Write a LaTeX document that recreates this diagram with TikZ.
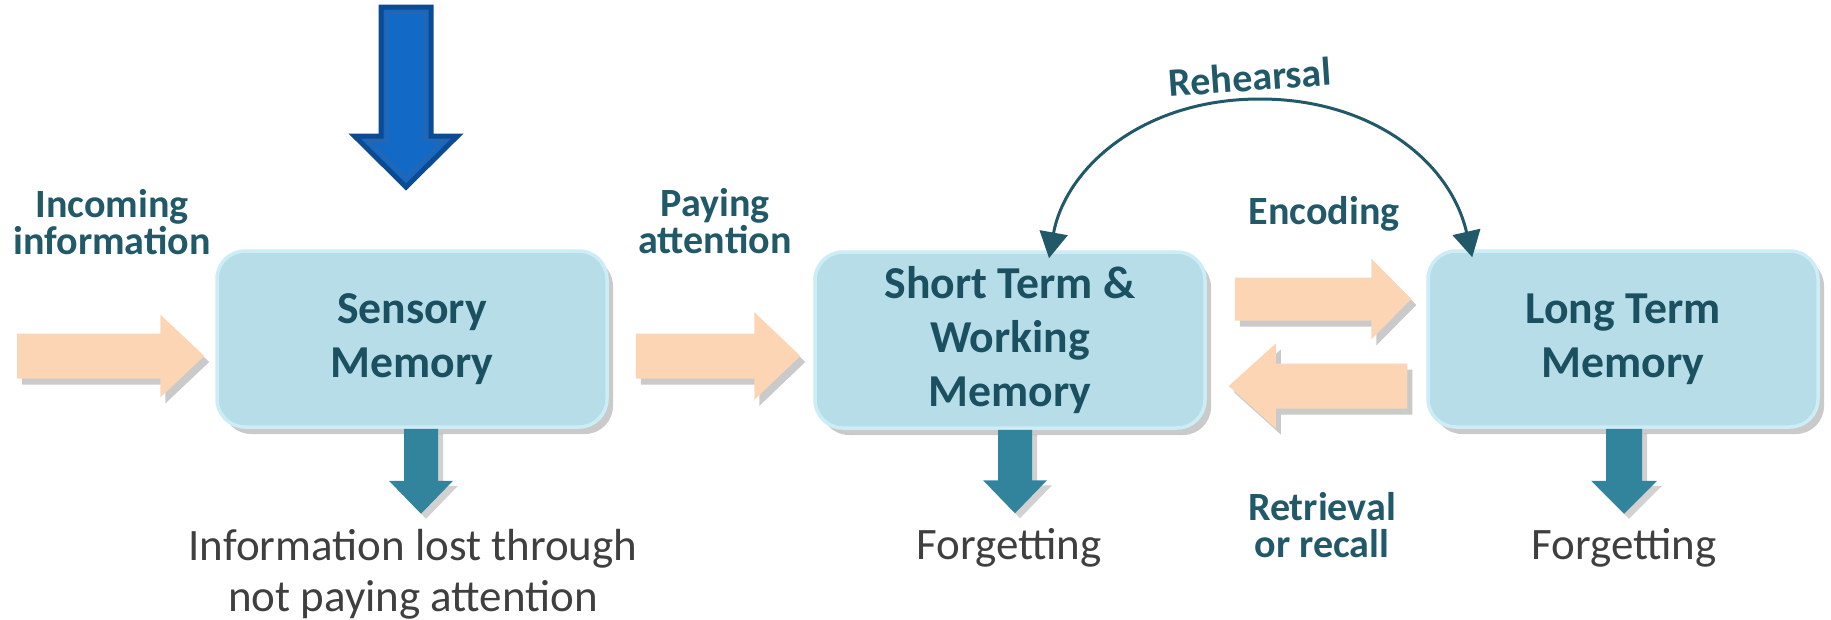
\documentclass[tikz,border=0pt]{standalone}
\usepackage{fontspec}
\setmainfont{Carlito}
\usetikzlibrary{calc,shadows,arrows.meta}
\definecolor{boxfill}{HTML}{B7DEE8}
\definecolor{boxline}{HTML}{CCECF6}
\definecolor{orangefill}{HTML}{FCD5B5}
\definecolor{tealfill}{HTML}{31849B}
\definecolor{labteal}{HTML}{215968}
\definecolor{boxtext}{HTML}{1B5061}
\definecolor{greytext}{HTML}{3F3F3F}
\definecolor{bluefill}{HTML}{1369C6}
\definecolor{blueline}{HTML}{0C4A92}
% block arrow: #1 style, #2 tail coord, #3 tip coord, #4 shaft half width, #5 head half width, #6 head length
\newcommand\blockarr[6]{%
  \coordinate (hb) at ($(#3)!#6!(#2)$);
  \path[#1] ($(#2)!#4!90:(#3)$) -- ($(hb)!#4!-90:(#2)$) -- ($(hb)!#5!-90:(#2)$)
    -- (#3) -- ($(hb)!#5!90:(#2)$) -- ($(hb)!#4!90:(#2)$) -- ($(#2)!#4!-90:(#3)$) -- cycle;}
\begin{document}
\begin{tikzpicture}[x=0.1mm,y=-0.1mm,
  memory/.style={rectangle, rounded corners=2.8mm, fill=boxfill, draw=boxline,
    line width=0.35mm, minimum width=39mm, minimum height=17.6mm, inner sep=0pt,
    align=center, text=boxtext, font=\fontsize{13}{15.4}\selectfont\bfseries,
    drop shadow={shadow xshift=0.6mm, shadow yshift=-0.7mm, opacity=0.35, fill=black!60}},
  lbl/.style={text=labteal, font=\fontsize{11.4}{10.3}\selectfont\bfseries, align=center, inner sep=0pt},
  outcome/.style={text=greytext, font=\fontsize{12.8}{14.5}\selectfont, align=center, inner sep=0pt},
  orangearr/.style={fill=orangefill, drop shadow={shadow xshift=0.5mm, shadow yshift=-0.6mm, opacity=0.35, fill=black!60}},
  tealarr/.style={fill=tealfill, drop shadow={shadow xshift=0.5mm, shadow yshift=-0.5mm, opacity=0.3, fill=black!60}},
  bluearr/.style={fill=bluefill, draw=blueline, line width=0.5mm, line join=miter},
  blueinner/.style={draw=blueline!85, line width=0.15mm, line join=miter},
  rehearse/.style={draw=labteal, line width=0.3mm,
    {Triangle[length=2.6mm,width=2.8mm]}-{Triangle[length=2.6mm,width=2.8mm]}}
]
\useasboundingbox (0,0) rectangle (1831,620);

% memory boxes
\node[memory] (sens) at (412,339) {Sensory\\Memory};
\node[memory] (stwm) at (1010,340) {Short Term \&\\Working\\Memory};
\node[memory] (ltm) at (1623,339) {Long Term\\Memory};

% blue input arrow
\coordinate (bt) at (406,7);
\coordinate (bh) at (406,187);
\blockarr{bluearr}{bt}{bh}{2.5mm}{5.15mm}{5.1mm}
\coordinate (bt2) at (406,13);
\coordinate (bh2) at (406,178);
\blockarr{blueinner}{bt2}{bh2}{1.9mm}{3.9mm}{3.8mm}

% orange arrows
\coordinate (in0) at (17,356);
\coordinate (in1) at ([xshift=-1.1mm,yshift=-1.7mm]sens.west);
\blockarr{orangearr}{in0}{in1}{2.25mm}{4.15mm}{4.4mm}

\coordinate (pa0) at ([xshift=2.7mm,yshift=-1.7mm]sens.east);
\coordinate (pa1) at ([xshift=-1.3mm,yshift=-1.6mm]stwm.west);
\blockarr{orangearr}{pa0}{pa1}{2.25mm}{4.4mm}{4.6mm}

\coordinate (en0) at ([xshift=2.8mm,yshift=4.1mm]stwm.east);
\coordinate (en1) at ([xshift=-1.5mm,yshift=4.0mm]ltm.west);
\blockarr{orangearr}{en0}{en1}{2.15mm}{4.05mm}{4.0mm}

\coordinate (re0) at ([xshift=-1.9mm,yshift=-4.7mm]ltm.west);
\coordinate (re1) at ([xshift=2.2mm,yshift=-4.6mm]stwm.east);
\blockarr{orangearr}{re0}{re1}{2.25mm}{4.25mm}{4.7mm}

% teal forgetting arrows
\coordinate (sd0) at ([xshift=0.9mm]sens.south);
\coordinate (sd1) at ([xshift=0.9mm,yshift=-8.5mm]sens.south);
\blockarr{tealarr}{sd0}{sd1}{1.7mm}{3.2mm}{3.3mm}
\coordinate (wd0) at ([xshift=0.5mm]stwm.south);
\coordinate (wd1) at ([xshift=0.5mm,yshift=-8.35mm]stwm.south);
\blockarr{tealarr}{wd0}{wd1}{1.7mm}{3.2mm}{3.3mm}
\coordinate (ld0) at ([xshift=0.1mm]ltm.south);
\coordinate (ld1) at ([xshift=0.1mm,yshift=-8.5mm]ltm.south);
\blockarr{tealarr}{ld0}{ld1}{1.8mm}{3.3mm}{3.3mm}

% rehearsal loop
\coordinate (r1) at ([xshift=3.9mm,yshift=-0.8mm]stwm.north);
\coordinate (r2) at ([xshift=4.6mm,yshift=-0.8mm]ltm.north west);
\draw[rehearse] (r1) .. controls (1065,170) and (1140,99) .. (1260,99)
  .. controls (1370,99) and (1450,160) .. (r2);
\node[lbl, rotate=4] (reh) at (1250,77) {Rehearsal};

% labels
\node[lbl] (incoming) at (112,222) {Incoming\\information};
\node[lbl] (paying) at (715,221) {Paying\\attention};
\node[lbl] (encoding) at (1324,214) {Encoding};
\node[lbl] (retrieval) at (1322,525) {Retrieval\\or recall};

% outcomes
\node[outcome] (lost) at (413,574) {Information lost through\\not paying attention};
\node[outcome] (forget1) at (1009,548) {Forgetting};
\node[outcome] (forget2) at (1624,548) {Forgetting};
\end{tikzpicture}
\end{document}
